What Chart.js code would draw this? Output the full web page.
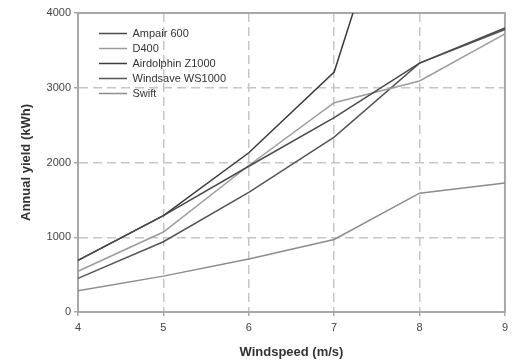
<!DOCTYPE html>
<html>
<head>
<meta charset="utf-8">
<script src="https://cdn.jsdelivr.net/npm/chart.js@4/dist/chart.umd.min.js"></script>
<style>
  html, body { margin: 0; padding: 0; background: #fff; }
  #wrap { width: 513px; height: 364px; }
</style>
</head>
<body>
<div id="wrap"><canvas id="yieldChart" width="513" height="364"></canvas></div>
<script>
// datos
const windspeed = ['4', '5', '6', '7', '8', '9'];
const ampair600 = [690, 1290, 1950, 2600, 3330, 3800];
const d400 = [545, 1070, 1960, 2800, 3090, 3720];
const airdolphinZ1000 = [690, 1290, 2130, 3210, 6800, null];
const windsaveWS1000 = [450, 940, 1600, 2340, 3330, 3780];
const swift = [285, 480, 710, 970, 1590, 1725];
const yTicks = [0, 1000, 2000, 3000, 4000];

const fontFamily = "'Liberation Sans', Arial, sans-serif";
const gridColor = '#c6c6c6';
const axisColor = '#a8a8a8';

// oculta la rejilla en los bordes (los dibuja el marco)
function gridLine(ctx) {
  const n = ctx.scale.ticks.length;
  if (ctx.index === 0 || ctx.index === n - 1) return 'rgba(0,0,0,0)';
  return gridColor;
}

// marco del area del grafico + mover la leyenda dentro
const framePlugin = {
  id: 'frame',
  afterLayout(chart) {
    const lg = chart.legend;
    if (lg) {
      lg.left += 17; lg.right += 17;
      lg.top += 24; lg.bottom += 24;
    }
  },
  beforeDatasetsDraw(chart) {
    const a = chart.chartArea;
    const c = chart.ctx;
    c.save();
    c.strokeStyle = axisColor;
    c.lineWidth = 2;
    c.strokeRect(a.left, a.top, a.right - a.left, a.bottom - a.top);
    c.restore();
  }
};

function serie(label, data, color) {
  return {
    label: label,
    data: data,
    borderColor: color,
    backgroundColor: color,
    borderWidth: 1.5,
    pointRadius: 0,
    tension: 0,
    fill: false
  };
}

const ctx = document.getElementById('yieldChart').getContext('2d');
new Chart(ctx, {
  type: 'line',
  data: {
    labels: windspeed,
    datasets: [
      serie('Ampair 600', ampair600, '#4a4a4a'),
      serie('D400', d400, '#9c9c9c'),
      serie('Airdolphin Z1000', airdolphinZ1000, '#3a3a3a'),
      serie('Windsave WS1000', windsaveWS1000, '#555555'),
      serie('Swift', swift, '#8c8c8c')
    ]
  },
  plugins: [framePlugin],
  options: {
    responsive: false,
    animation: false,
    layout: { padding: { top: 13, right: 6, left: 15, bottom: 0 } },
    plugins: {
      legend: {
        position: 'chartArea',
        align: 'start',
        labels: {
          usePointStyle: true,
          pointStyle: 'line',
          pointStyleWidth: 28,
          padding: 4,
          color: '#333',
          font: { family: fontFamily, size: 11 }
        }
      },
      tooltip: { enabled: false }
    },
    scales: {
      x: {
        type: 'category',
        offset: false,
        grid: {
          offset: false,
          color: gridLine,
          lineWidth: 1.5,
          tickColor: axisColor,
          tickLength: 4,
          tickBorderDash: []
        },
        border: { display: true, color: axisColor, width: 2, dash: [9, 5] },
        ticks: {
          padding: 5,
          color: '#444',
          font: { family: fontFamily, size: 11 },
          maxRotation: 0
        },
        title: {
          display: true,
          text: 'Windspeed (m/s)',
          color: '#333',
          font: { family: fontFamily, size: 13, weight: 'bold' }
        },
        afterFit(scale) { scale.height = 52; }
      },
      y: {
        min: 0,
        max: 4000,
        grid: {
          color: gridLine,
          lineWidth: 1.5,
          tickColor: axisColor,
          tickLength: 4,
          tickBorderDash: []
        },
        border: { display: true, color: axisColor, width: 2, dash: [9, 5] },
        ticks: {
          padding: 3,
          color: '#444',
          font: { family: fontFamily, size: 11 },
          callback: v => String(v)
        },
        afterBuildTicks(scale) {
          scale.ticks = yTicks.map(v => ({ value: v }));
        },
        title: {
          display: true,
          text: 'Annual yield (kWh)',
          color: '#333',
          font: { family: fontFamily, size: 13, weight: 'bold' }
        },
        afterFit(scale) { scale.width = 63; }
      }
    }
  }
});
</script>
</body>
</html>
